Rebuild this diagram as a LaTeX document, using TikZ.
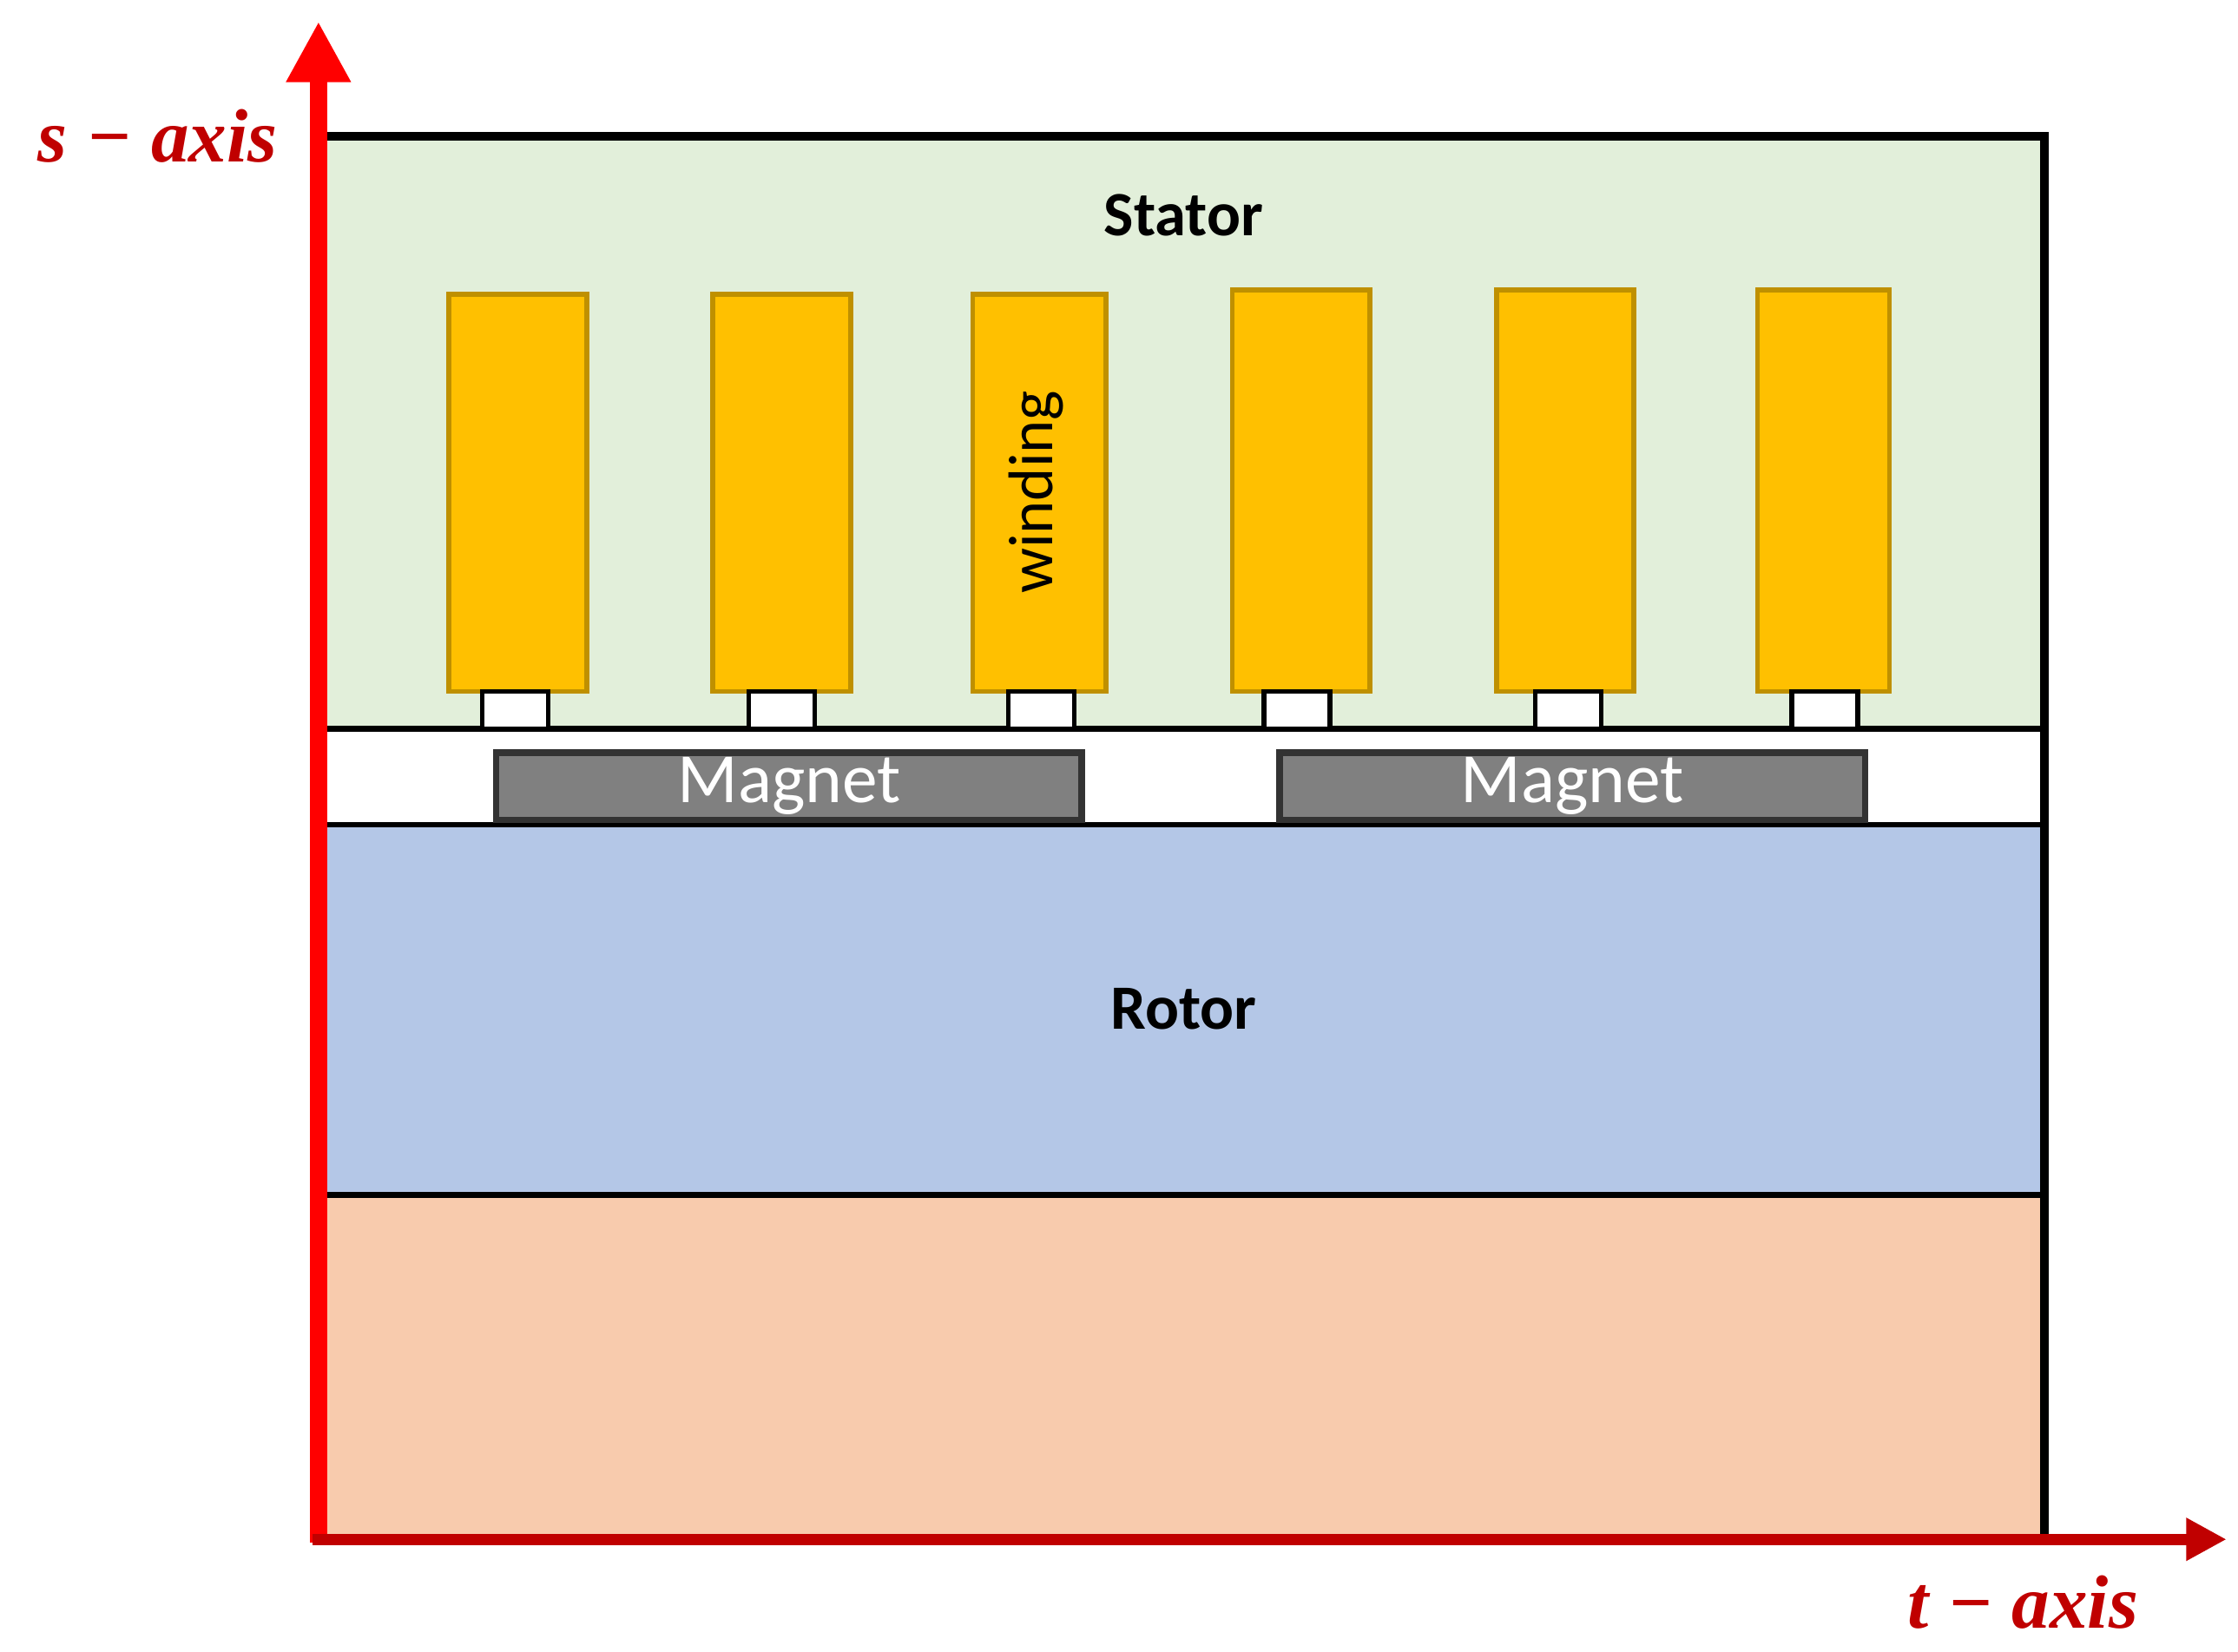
\documentclass[tikz,border=0pt]{standalone}
\usepackage{fontspec}
\setmainfont{Carlito}
\newfontfamily\axf{Liberation Serif}
\usetikzlibrary{arrows.meta}
\definecolor{stat}{HTML}{E2EFDA}
\definecolor{rot}{HTML}{B4C7E7}
\definecolor{peach}{HTML}{F8CBAD}
\definecolor{gold}{HTML}{FFC000}
\definecolor{goldd}{HTML}{BF9000}
\definecolor{mag}{HTML}{808080}
\definecolor{axr}{HTML}{C00000}
\begin{document}
\begin{tikzpicture}[x=0.01cm,y=-0.01cm,
  wind/.style={draw=goldd,fill=gold,line width=1pt},
  sq/.style={draw=black,fill=white,line width=0.9pt},
  magn/.style={draw=black!80,fill=mag,line width=1.3pt},
  lbl/.style={font=\fontsize{12.5}{14}\selectfont},
  axl/.style={text=axr,font=\axf\bfseries\itshape\fontsize{15}{18}\selectfont}]
\useasboundingbox (0,0) rectangle (1560,1151);
\fill[peach] (228,833) rectangle (1425,1072);
\fill[rot] (228,575) rectangle (1425,833);
\fill[stat] (228,95) rectangle (1425,508);
\draw[line width=1.1pt] (228,508) -- (1425,508);
\draw[line width=1.1pt] (228,575) -- (1425,575);
\draw[line width=1.1pt] (228,833) -- (1425,833);
\draw[line width=1.6pt] (228,95) -- (1425,95) -- (1425,1072);
\foreach \a/\b/\t/\c in {313/409/205/359,497/593/205/545,678/771/205/726,859/955/202/904,1043/1139/202/1093,1225/1317/202/1272}{
  \draw[wind] (\a,\t) rectangle (\b,482);
  \draw[sq] (\c-23,482) rectangle (\c+23,508);
}
\node[magn,minimum width=4.08cm,minimum height=0.47cm,text=white,font=\fontsize{14}{16}\selectfont,inner sep=0pt] (m1) at (550,548) {Magnet};
\node[magn,minimum width=4.08cm,minimum height=0.47cm,text=white,font=\fontsize{14}{16}\selectfont,inner sep=0pt] (m2) at (1096,548) {Magnet};
\node[font=\bfseries\fontsize{12.5}{14}\selectfont] (st) at (825,150) {Stator};
\node[font=\bfseries\fontsize{12.5}{14}\selectfont] (ro) at (825,703) {Rotor};
\node[rotate=90,font=\fontsize{12.5}{14}\selectfont] (wi) at (722,343) {winding};
\coordinate (top) at (222,15);
\coordinate (rt) at (1552,1073);
\draw[red,line width=3.5pt,-{Triangle[length=12pt,width=12pt]}] (222,1075) -- (top);
\draw[axr,line width=2.2pt,-{Triangle[length=8pt,width=8pt]}] (218,1073) -- (rt);
\node[axl] (sl) at (110,95) {s − axis};
\node[axl] (tl) at (1410,1117) {t − axis};
\end{tikzpicture}
\end{document}
